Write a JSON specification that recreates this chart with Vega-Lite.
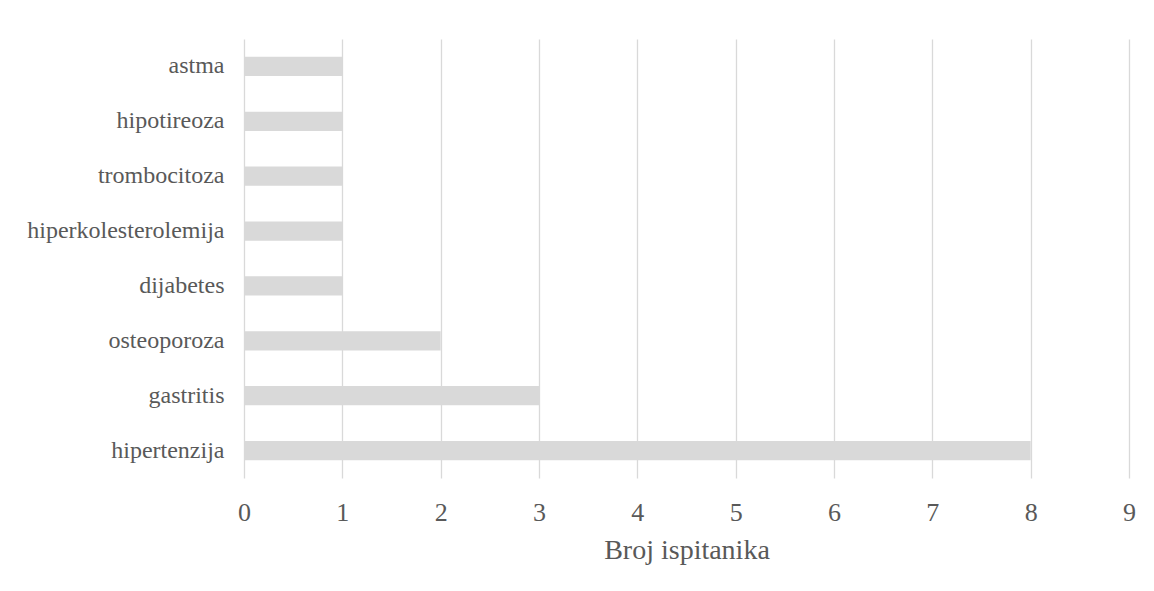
{
  "$schema": "https://vega.github.io/schema/vega-lite/v6.json",
  "autosize": {"type": "none"},
  "padding": {"left": 244, "top": 39, "right": 25, "bottom": 113},
  "width": 885,
  "height": 439,
  "background": "white",
  "config": {
    "view": {"stroke": null},
    "font": "'Liberation Serif', serif"
  },
  "data": {
    "values": [
      {"bolest": "astma", "broj": 1},
      {"bolest": "hipotireoza", "broj": 1},
      {"bolest": "trombocitoza", "broj": 1},
      {"bolest": "hiperkolesterolemija", "broj": 1},
      {"bolest": "dijabetes", "broj": 1},
      {"bolest": "osteoporoza", "broj": 2},
      {"bolest": "gastritis", "broj": 3},
      {"bolest": "hipertenzija", "broj": 8}
    ]
  },
  "mark": {"type": "bar", "color": "#d9d9d9"},
  "encoding": {
    "y": {
      "field": "bolest",
      "type": "nominal",
      "sort": ["astma", "hipotireoza", "trombocitoza", "hiperkolesterolemija", "dijabetes", "osteoporoza", "gastritis", "hipertenzija"],
      "scale": {"paddingInner": 0.65, "paddingOuter": 0.325},
      "axis": {
        "title": null,
        "domain": false,
        "ticks": false,
        "labelPadding": 20,
        "labelLimit": 400,
        "labelFont": "'Liberation Serif', serif",
        "labelFontSize": 24,
        "labelColor": "#595959",
        "grid": false
      }
    },
    "x": {
      "field": "broj",
      "type": "quantitative",
      "scale": {"domain": [0, 9], "nice": false},
      "axis": {
        "title": "Broj ispitanika",
        "values": [0, 1, 2, 3, 4, 5, 6, 7, 8, 9],
        "domain": false,
        "ticks": false,
        "grid": true,
        "gridColor": "#d9d9d9",
        "gridWidth": 1.3,
        "labelPadding": 21,
        "labelFont": "'Liberation Serif', serif",
        "labelFontSize": 26,
        "labelColor": "#595959",
        "labelFlush": false,
        "titleFont": "'Liberation Serif', serif",
        "titleFontSize": 28,
        "titleFontWeight": "normal",
        "titleColor": "#595959",
        "titlePadding": 11
      }
    }
  }
}
